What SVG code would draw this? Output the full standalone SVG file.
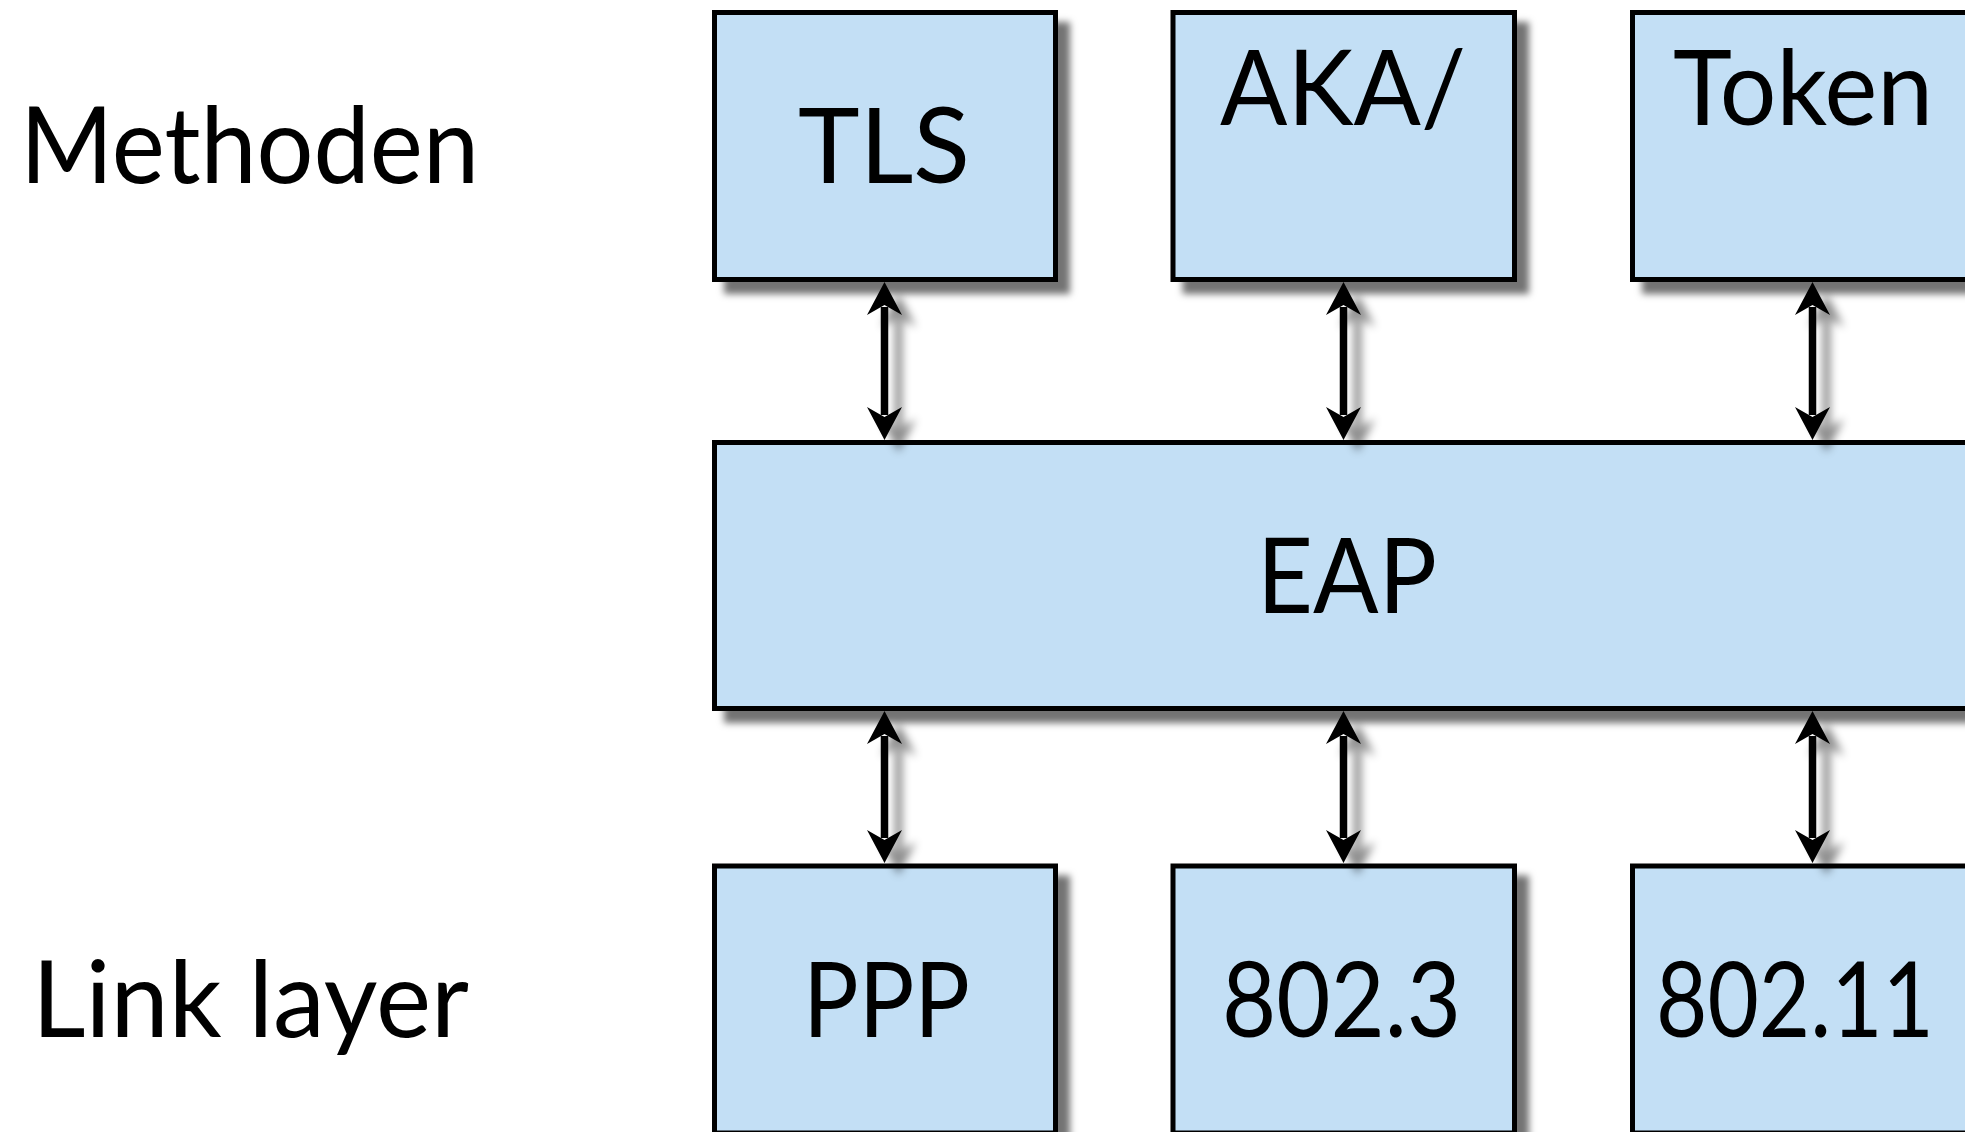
<svg xmlns="http://www.w3.org/2000/svg" width="1965" height="1132" viewBox="0 0 1965 1132">
<style>
.box{fill:#c3dff5;stroke:#000;stroke-width:5}
.lbl{font-family:Lato,"Liberation Sans",sans-serif;font-size:104px;fill:#000}
.side{font-family:Lato,"Liberation Sans",sans-serif;font-size:107px;fill:#000}
.conn{stroke:#000;stroke-width:7.5;fill:none}
</style>
<defs>
<filter id="sh" x="-10%" y="-10%" width="130%" height="130%">
<feDropShadow dx="12" dy="12" stdDeviation="3.5" flood-color="#000" flood-opacity="0.55"/>
</filter>
<filter id="ash" x="-100%" y="-20%" width="400%" height="150%">
<feDropShadow dx="14" dy="12" stdDeviation="4" flood-color="#000" flood-opacity="0.45"/>
</filter>
<marker id="ah" viewBox="-10 -20 40 40" refX="0" refY="0" markerWidth="40" markerHeight="40" markerUnits="userSpaceOnUse" orient="auto-start-reverse">
<path d="M25,0 L-8,-17.5 L2,0 L-8,17.5 Z" fill="#000"/>
</marker>
</defs>
<rect width="1965" height="1132" fill="#fff"/>
<text class="side" x="20" y="183" textLength="459" lengthAdjust="spacingAndGlyphs">Methoden</text>
<text class="side" x="32" y="1037" textLength="437" lengthAdjust="spacingAndGlyphs">Link layer</text>
<g id="tls" filter="url(#sh)"><rect class="box" x="714.5" y="12.5" width="341" height="267"/></g>
<text class="lbl" x="798" y="183" textLength="172" lengthAdjust="spacingAndGlyphs">TLS</text>
<g id="aka" filter="url(#sh)"><rect class="box" x="1173" y="12.5" width="341.5" height="267"/></g>
<text class="lbl" x="1220" y="125" textLength="246" lengthAdjust="spacingAndGlyphs">AKA/</text>
<g id="token" filter="url(#sh)"><rect class="box" x="1632.5" y="12.5" width="341" height="267"/></g>
<text class="lbl" x="1673" y="125" textLength="260" lengthAdjust="spacingAndGlyphs">Token</text>
<g id="eap" filter="url(#sh)"><rect class="box" x="714.5" y="442.5" width="1400" height="266"/></g>
<text class="lbl" x="1257" y="613" textLength="180" lengthAdjust="spacingAndGlyphs">EAP</text>
<g id="ppp" filter="url(#sh)"><rect class="box" x="714.5" y="866" width="341" height="267"/></g>
<text class="lbl" x="803" y="1037" textLength="167" lengthAdjust="spacingAndGlyphs">PPP</text>
<g id="e8023" filter="url(#sh)"><rect class="box" x="1173" y="866" width="341.5" height="267"/></g>
<text class="lbl" x="1222" y="1037" textLength="239" lengthAdjust="spacingAndGlyphs">802.3</text>
<g id="e80211" filter="url(#sh)"><rect class="box" x="1632.5" y="866" width="341" height="267"/></g>
<text class="lbl" x="1656" y="1037" textLength="278" lengthAdjust="spacingAndGlyphs">802.11</text>
<g id="connectors" filter="url(#ash)">
<line class="conn" x1="884.5" y1="307" x2="884.5" y2="415" marker-start="url(#ah)" marker-end="url(#ah)"/>
<line class="conn" x1="1343.5" y1="307" x2="1343.5" y2="415" marker-start="url(#ah)" marker-end="url(#ah)"/>
<line class="conn" x1="1812.5" y1="307" x2="1812.5" y2="415" marker-start="url(#ah)" marker-end="url(#ah)"/>
<line class="conn" x1="884.5" y1="736" x2="884.5" y2="838" marker-start="url(#ah)" marker-end="url(#ah)"/>
<line class="conn" x1="1343.5" y1="736" x2="1343.5" y2="838" marker-start="url(#ah)" marker-end="url(#ah)"/>
<line class="conn" x1="1812.5" y1="736" x2="1812.5" y2="838" marker-start="url(#ah)" marker-end="url(#ah)"/>
</g>
</svg>
